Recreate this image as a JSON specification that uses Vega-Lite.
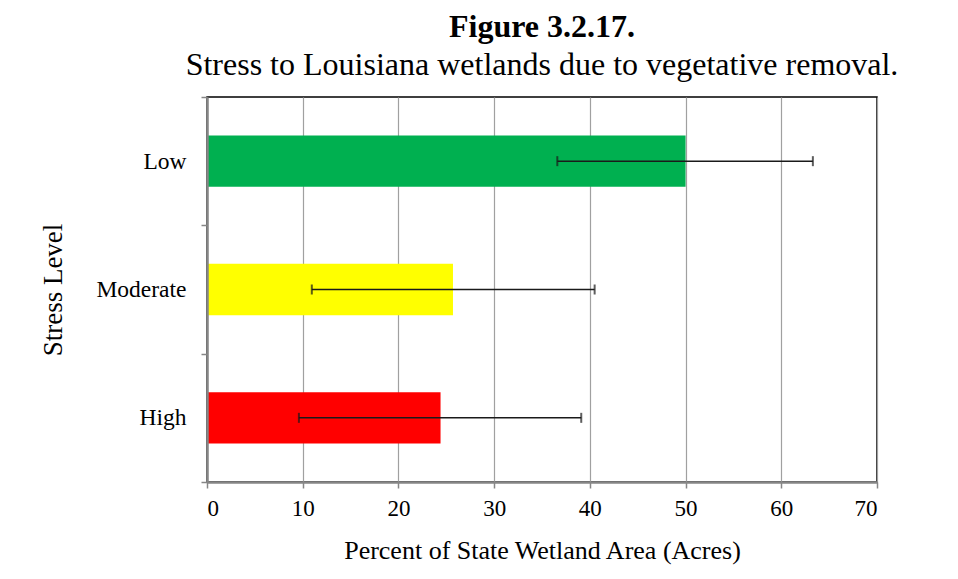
{
  "$schema": "https://vega.github.io/schema/vega-lite/v6.json",
  "width": 670,
  "height": 385,
  "autosize": {"type": "none"},
  "padding": {"left": 207, "top": 97, "right": 81, "bottom": 97},
  "background": "white",
  "config": {
    "font": "Liberation Serif",
    "view": {"stroke": "black", "strokeWidth": 1.5}
  },
  "title": {
    "text": "Figure 3.2.17.",
    "subtitle": "Stress to Louisiana wetlands due to vegetative removal.",
    "font": "Liberation Serif",
    "fontSize": 32,
    "fontWeight": "bold",
    "color": "black",
    "subtitleFont": "Liberation Serif",
    "subtitleFontSize": 32,
    "subtitleColor": "black",
    "subtitlePadding": 6,
    "anchor": "middle",
    "offset": 3
  },
  "data": {
    "values": [
      {"level": "Low", "pct": 50, "lo": 36.6, "hi": 63.3},
      {"level": "Moderate", "pct": 25.7, "lo": 10.95, "hi": 40.5},
      {"level": "High", "pct": 24.4, "lo": 9.6, "hi": 39.1}
    ]
  },
  "encoding": {
    "y": {
      "field": "level",
      "type": "nominal",
      "sort": ["Low", "Moderate", "High"],
      "scale": {"paddingInner": 0, "paddingOuter": 0},
      "title": "Stress Level",
      "axis": {
        "tickBand": "extent",
        "grid": false,
        "domainColor": "#868686",
        "domainWidth": 2.5,
        "tickColor": "#868686",
        "tickSize": 6,
        "tickWidth": 1.5,
        "labelFontSize": 23.5,
        "labelColor": "black",
        "labelPadding": 15,
        "titleFontSize": 27,
        "titleFontWeight": "normal",
        "titleColor": "black",
        "titlePadding": 28,
        "zindex": 1
      }
    }
  },
  "layer": [
    {
      "mark": {"type": "bar", "height": {"band": 0.4}},
      "encoding": {
        "x": {
          "field": "pct",
          "type": "quantitative",
          "scale": {"domain": [0, 70], "nice": false},
          "title": "Percent of State Wetland Area (Acres)",
          "axis": {
            "values": [0, 10, 20, 30, 40, 50, 60, 70],
            "grid": true,
            "gridColor": "#a0a0a0",
            "gridWidth": 1.2,
            "domainColor": "#868686",
            "domainWidth": 2.5,
            "tickColor": "#868686",
            "tickSize": 6,
            "tickWidth": 1.5,
            "labelFontSize": 23,
            "labelColor": "black",
            "labelPadding": 9,
            "titleFontSize": 26,
            "titleFontWeight": "normal",
            "titleColor": "black",
            "titlePadding": 17
          }
        },
        "color": {
          "field": "level",
          "type": "nominal",
          "scale": {"domain": ["Low", "Moderate", "High"], "range": ["#00B050", "#FFFF00", "#FF0000"]},
          "legend": null
        }
      }
    },
    {
      "mark": {"type": "rule", "color": "#1a1a1a", "strokeWidth": 1.5},
      "encoding": {
        "x": {"field": "lo", "type": "quantitative"},
        "x2": {"field": "hi"}
      }
    },
    {
      "mark": {"type": "tick", "color": "#1a1a1a", "thickness": 2, "size": 10},
      "encoding": {"x": {"field": "lo", "type": "quantitative"}}
    },
    {
      "mark": {"type": "tick", "color": "#1a1a1a", "thickness": 2, "size": 10},
      "encoding": {"x": {"field": "hi", "type": "quantitative"}}
    }
  ]
}
